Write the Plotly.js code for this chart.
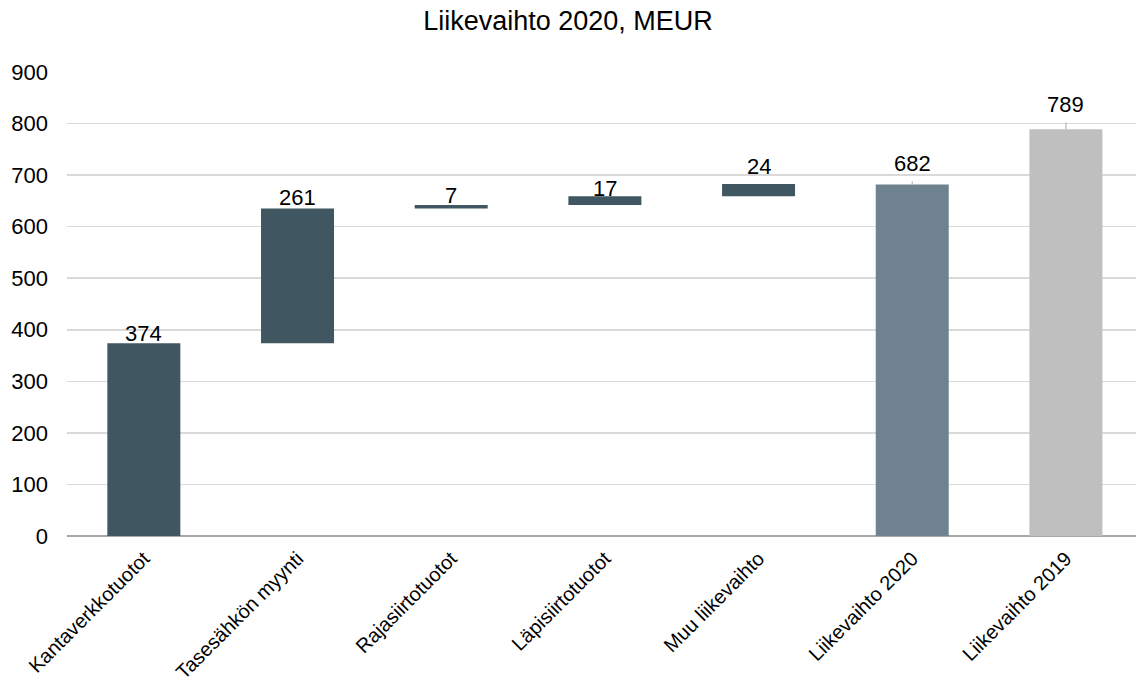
<!DOCTYPE html>
<html>
<head>
<meta charset="utf-8">
<script src="https://cdn.plot.ly/plotly-3.0.1.min.js"></script>
<style>html,body{margin:0;padding:0;background:#fff;}#chart{width:1136px;height:688px;}</style>
</head>
<body>
<div id="chart"></div>
<script>
// ---- data ----
const categories = ["Kantaverkkotuotot", "Tasesähkön myynti", "Rajasiirtotuotot", "Läpisiirtotuotot", "Muu liikevaihto", "Liikevaihto 2020", "Liikevaihto 2019"];
const values = [374, 261, 7, 17, 24, 682, 789];
const measures = ["relative", "relative", "relative", "relative", "relative", "total", "total"];
const yTicks = [0, 100, 200, 300, 400, 500, 600, 700, 800, 900];

// ---- derived bases (waterfall) ----
const bases = [];
let running = 0;
values.forEach((v, i) => {
  if (measures[i] === "relative") { bases.push(running); running += v; }
  else { bases.push(0); }
});

// ---- styles ----
const FONT = "Liberation Sans, Arial, sans-serif";
const colors = ["#405661", "#405661", "#405661", "#405661", "#405661", "#6E838F", "#BFBFBF"];
const leaderLen = [0, 0, 0, 0, 0, 6, 13];
const labelShift = [10, 11, 10, 8, 17, 21, 25];

const trace = {
  type: "bar",
  x: categories,
  y: values,
  base: bases,
  marker: { color: colors, line: { width: 0 } },
  error_y: { type: "data", symmetric: false, array: leaderLen, arrayminus: values.map(() => 0), width: 0, thickness: 1, color: "#A6A6A6" },
  hoverinfo: "x+y"
};

const annotations = categories.map((c, i) => ({
  x: c,
  y: bases[i] + values[i],
  xref: "x", yref: "y",
  text: String(values[i]),
  showarrow: false,
  xanchor: "center",
  yanchor: "middle",
  yshift: labelShift[i],
  font: { family: FONT, size: 22, color: "#000" }
}));

const layout = {
  width: 1136, height: 688,
  margin: { l: 67, r: 0, t: 72, b: 152 },
  paper_bgcolor: "#fff", plot_bgcolor: "#fff",
  font: { family: FONT, size: 22, color: "#000" },
  title: { text: "Liikevaihto 2020, MEUR", x: 0.5, xref: "container", xanchor: "center", y: 0.97, yref: "container", yanchor: "middle", font: { size: 27, color: "#000" } },
  bargap: 0.525,
  showlegend: false,
  annotations: annotations,
  xaxis: {
    type: "category",
    range: [-0.5, 6.456],
    tickangle: -45,
    showgrid: false,
    showline: false,
    zeroline: false,
    ticks: "",
    ticklabelstandoff: 6,
    tickfont: { size: 20 },
    fixedrange: true
  },
  yaxis: {
    range: [0, 900],
    tickvals: yTicks,
    ticktext: yTicks.map(String),
    showgrid: true,
    gridcolor: "#D9D9D9",
    gridwidth: 1.5,
    zeroline: true,
    zerolinecolor: "#A6A6A6",
    zerolinewidth: 1.5,
    showline: false,
    ticks: "",
    ticklabelstandoff: 18,
    tickfont: { size: 22 },
    fixedrange: true
  }
};

Plotly.newPlot("chart", [trace], layout, { displayModeBar: false, staticPlot: true });
</script>
</body>
</html>
